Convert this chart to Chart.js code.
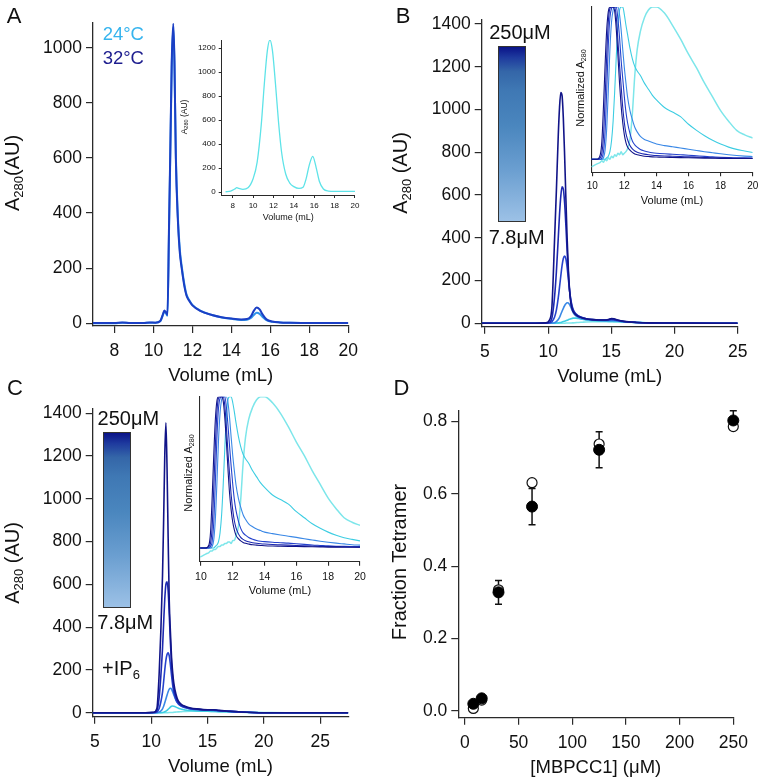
<!DOCTYPE html>
<html><head><meta charset="utf-8">
<script src="https://cdn.jsdelivr.net/npm/chart.js@4.4.1/dist/chart.umd.min.js"></script>
<style>
html,body{margin:0;padding:0;background:#fff;}
#wrap{position:relative;width:779px;height:779px;overflow:hidden;font-family:"Liberation Sans",Arial,sans-serif;color:#111;background:#fff;}
canvas{position:absolute;left:0;top:0;}
.t{position:absolute;white-space:nowrap;line-height:1;transform:translate(-50%,-50%);}
.r{transform:translate(-50%,-50%) rotate(-90deg);}
sub{font-size:0.65em;vertical-align:-0.3em;line-height:0;}
.cb{position:absolute;border:1.5px solid #333;box-sizing:border-box;
 background:linear-gradient(to bottom,#0A1388 0%,#1E3A9E 6%,#3466A8 14%,#3F78B4 25%,#4A86BE 45%,#6A9ED0 70%,#9CC1E6 100%);}
</style>
</head><body>
<div id="wrap">
<canvas id="cA" width="779" height="779"></canvas>
<canvas id="cAi" width="779" height="779"></canvas>
<canvas id="cB" width="779" height="779"></canvas>
<canvas id="cBi" width="779" height="779"></canvas>
<canvas id="cC" width="779" height="779"></canvas>
<canvas id="cCi" width="779" height="779"></canvas>
<canvas id="cD" width="779" height="779"></canvas>

<div class="t" style="left:14px;top:15.5px;font-size:22px">A</div>
<div class="t" style="left:403px;top:15.5px;font-size:22px">B</div>
<div class="t" style="left:15px;top:387.5px;font-size:22px">C</div>
<div class="t" style="left:401.5px;top:387.5px;font-size:22px">D</div>

<div class="t" style="left:123.3px;top:33.7px;font-size:18.5px;color:#36B4EE">24°C</div>
<div class="t" style="left:123.3px;top:57.5px;font-size:18.5px;color:#1C1C8E">32°C</div>

<div class="t r" style="left:11.5px;top:173px;font-size:20px">A<sub>280</sub>(AU)</div>
<div class="t r" style="left:400px;top:173px;font-size:20px">A<sub>280</sub> (AU)</div>
<div class="t r" style="left:11.5px;top:563px;font-size:20px">A<sub>280</sub> (AU)</div>
<div class="t r" style="left:398.5px;top:561.7px;font-size:20px">Fraction Tetramer</div>

<div class="t r" style="left:184px;top:117px;font-size:8.5px">A<sub>280</sub> (AU)</div>
<div class="t r" style="left:580px;top:87.5px;font-size:11px">Normalized A<sub>280</sub></div>
<div class="t r" style="left:188px;top:472.5px;font-size:11px">Normalized A<sub>280</sub></div>

<div class="cb" style="left:497.7px;top:46px;width:28.3px;height:175.7px"></div>
<div class="t" style="left:520px;top:32.3px;font-size:20px">250μM</div>
<div class="t" style="left:516.7px;top:236.7px;font-size:20px">7.8μM</div>

<div class="cb" style="left:103.3px;top:431.7px;width:27.7px;height:176px"></div>
<div class="t" style="left:128.3px;top:417.7px;font-size:20px">250μM</div>
<div class="t" style="left:125.3px;top:621.7px;font-size:20px">7.8μM</div>
<div class="t" style="left:121px;top:668px;font-size:20px">+IP<sub>6</sub></div>
</div>

<script>
// ---------------- Panel A ----------------
const volA = [6.9, 7.5, 8.0, 8.4, 8.8, 9.5, 9.8, 10.1, 10.35, 10.5, 10.56, 10.64, 10.72, 10.8, 10.86, 10.94, 11.02, 11.08, 11.15, 11.25, 11.35, 11.45, 11.6, 11.7, 11.85, 12.0, 12.4, 13.0, 13.5, 14.0, 14.5, 14.8, 15.0, 15.15, 15.3, 15.45, 15.6, 15.8, 16.1, 16.5, 17.0, 18.0, 20.0];
const a32C = [1,1,1,3,1,1,3,2,8,35,46,40,30,350,600,950,1088,950,600,380,260,200,130,100,80,65,45,30,22,17,14,15,25,45,57,50,32,14,6,3,2,1,1];
const a24C = [0,0,0,2,1,1,2,2,7,32,43,37,27,330,580,930,1075,940,615,395,272,208,136,104,83,67,46,30,21,16,12,13,19,30,38,34,23,11,5,3,2,1,1];
const xTicksA = [8,10,12,14,16,18,20];
const yTicksA = [0,200,400,600,800,1000];

const volAin = [7.3, 7.8, 8.2, 8.4, 8.6, 9.0, 9.5, 10.0, 10.4, 10.8, 11.1, 11.4, 11.65, 11.9, 12.2, 12.5, 12.8, 13.2, 13.6, 14.0, 14.5, 14.9, 15.2, 15.5, 15.85, 16.2, 16.5, 16.9, 17.4, 18, 19, 20];
const aInset = [2,8,25,36,30,22,35,110,250,560,900,1180,1268,1180,900,580,330,150,75,45,30,40,110,220,298,200,90,25,8,5,5,5];
const xTicksAin = [8,10,12,14,16,18,20];
const yTicksAin = [0,200,400,600,800,1000,1200];

// ---------------- Panel B ----------------
const volB = [4.75, 9.0, 9.8, 10.1, 10.3, 10.5, 10.65, 10.8, 10.9, 11.0, 11.1, 11.2, 11.3, 11.4, 11.5, 11.6, 11.7, 11.8, 11.9, 12.0, 12.2, 12.4, 12.7, 13.0, 13.5, 14.0, 14.5, 14.8, 15.0, 15.2, 15.5, 16.0, 17.0, 18.0, 20.0, 25.0];
const b250 = [0,0,2,15,80,380,620,880,1010,1080,1065,960,790,590,400,250,150,92,66,52,39,31,25,21,17,15,15,18,22,21,15,9,4,2,1,0];
const b125 = [0,0,1,5,25,120,240,400,510,595,638,628,565,460,340,230,150,103,74,57,41,33,26,21,17,15,15,17,20,19,14,8,4,2,1,0];
const b62 = [0,0,0,2,7,28,62,120,170,222,270,303,315,302,262,205,150,108,80,62,44,34,27,21,17,15,14,15,17,16,13,8,4,2,1,0];
const b31 = [0,0,0,0,1,3,8,18,28,42,56,70,82,91,96,95,87,74,60,48,34,27,21,18,15,13,12,12,12,12,10,7,4,2,1,0];
const b16 = [0,0,0,0,0,0,1,2,3,4,6,8,10,12,14,17,19,21,23,24,24,22,19,16,13,11,10,9,9,9,8,6,4,2,1,0];
const b8 = [0,0,0,0,0,0,0,0,0,0,0,0,0,1,1,1,1,1,2,2,3,4,5,6,7,7.5,7.5,7.3,7,6.8,6.2,5,3.5,2.2,1,0];
const xTicksB = [5,10,15,20,25];
const yTicksB = [0,200,400,600,800,1000,1200,1400];

const volBin = [9.95, 10.3, 10.5, 10.6, 10.7, 10.8, 10.9, 11.0, 11.1, 11.2, 11.3, 11.4, 11.5, 11.6, 11.7, 11.8, 11.9, 12.0, 12.1, 12.2, 12.35, 12.5, 12.65, 12.8, 13.0, 13.25, 13.5, 13.75, 14.0, 14.5, 15.0, 15.5, 16.0, 16.5, 17.0, 17.5, 18.0, 18.5, 19.0, 19.5, 20.0];
const n250 = [0,0,0.03,0.12,0.35,0.62,0.85,0.97,1,1,1,0.97,0.85,0.68,0.5,0.35,0.24,0.16,0.11,0.08,0.06,0.045,0.035,0.03,0.025,0.02,0.018,0.016,0.015,0.013,0.012,0.011,0.01,0.009,0.008,0.007,0.006,0.006,0.005,0.005,0.005];
const n125 = [0,0,0.01,0.04,0.15,0.4,0.68,0.9,0.99,1,1,1,0.93,0.78,0.62,0.48,0.34,0.24,0.17,0.13,0.09,0.068,0.055,0.047,0.04,0.034,0.03,0.027,0.025,0.022,0.02,0.018,0.016,0.014,0.012,0.01,0.009,0.008,0.007,0.006,0.006];
const n62 = [0,0,0,0.01,0.05,0.18,0.45,0.75,0.93,0.99,1,1,1,0.92,0.8,0.65,0.53,0.41,0.31,0.24,0.17,0.12,0.095,0.08,0.065,0.055,0.048,0.043,0.04,0.036,0.033,0.03,0.027,0.023,0.019,0.016,0.013,0.011,0.01,0.009,0.008];
const n31 = [0,0,0,0,0.01,0.06,0.2,0.45,0.72,0.9,0.98,1,1,1,0.95,0.85,0.72,0.6,0.5,0.41,0.32,0.26,0.21,0.18,0.15,0.13,0.12,0.11,0.1,0.09,0.082,0.074,0.066,0.058,0.05,0.043,0.036,0.03,0.025,0.021,0.018];
const n16 = [0,0,0,0,0,0,0.01,0.02,0.05,0.12,0.25,0.45,0.68,0.88,0.98,1,1,0.95,0.88,0.82,0.73,0.66,0.61,0.58,0.55,0.5,0.46,0.42,0.39,0.34,0.31,0.28,0.23,0.19,0.155,0.125,0.1,0.08,0.065,0.055,0.045];
const n8 = [-0.05,-0.03,-0.02,-0.01,-0.02,0,-0.01,0.01,0,0.02,0.01,0.03,0.02,0.04,0.03,0.05,0.03,0.04,0.05,0.07,0.13,0.3,0.55,0.72,0.84,0.93,0.98,1,1,0.96,0.88,0.79,0.69,0.6,0.5,0.41,0.32,0.25,0.19,0.16,0.14];
const xTicksIn = [10,12,14,16,18,20];

// ---------------- Panel C ----------------
const volC = [4.8, 9.5, 10.2, 10.5, 10.7, 10.85, 11.0, 11.1, 11.2, 11.3, 11.4, 11.5, 11.6, 11.7, 11.8, 11.9, 12.0, 12.2, 12.4, 12.7, 13.0, 13.5, 14.0, 15.0, 15.5, 16.0, 17.0, 18.0, 19.0, 20.0, 22.0, 25.0, 27.5];
const c250 = [0,0,2,20,180,380,640,900,1200,1355,1150,820,520,380,260,190,140,85,55,38,30,22,18,14,14,11,7,3,1,0,0,0,0];
const c125 = [0,0,1,10,70,170,300,420,530,600,612,570,460,330,230,160,115,72,48,34,27,20,17,13,13,10,6,3,1,0,0,0,0];
const c62 = [0,0,0,3,20,50,95,145,200,245,272,280,265,225,175,130,95,60,42,30,24,18,15,12,12,9,6,3,1,0,0,0,0];
const c31 = [0,0,0,0,3,8,18,30,46,64,82,98,110,114,110,98,84,58,42,30,24,18,15,12,11,9,6,3,1,0,0,0,0];
const c16 = [0,0,0,0,0,0,1,2,4,7,11,16,21,26,30,31,30,26,21,16,13,10,8,7,6,5,4,2,1,0,0,0,0];
const c8 = [0,0,0,0,0,0,0,0,0,0,0,0,1,1,1,1,2,3,4,5,6,7,7,6.5,6,5,3.5,2.5,1.5,1,0,0,0];
const xTicksC = [5,10,15,20,25];
const yTicksC = [0,200,400,600,800,1000,1200,1400];

const volCin = [9.95, 10.3, 10.5, 10.6, 10.7, 10.8, 10.9, 11.0, 11.1, 11.2, 11.3, 11.4, 11.5, 11.6, 11.7, 11.8, 11.9, 12.0, 12.1, 12.2, 12.35, 12.5, 12.65, 12.8, 13.0, 13.25, 13.5, 13.75, 14.0, 14.5, 15.0, 15.5, 16.0, 16.5, 17.0, 17.5, 18.0, 18.5, 19.0, 19.5, 20.0];
const m250 = [0,0,0.02,0.1,0.32,0.6,0.84,0.97,1,1,1,0.97,0.86,0.7,0.52,0.36,0.25,0.17,0.12,0.085,0.062,0.047,0.037,0.031,0.026,0.021,0.019,0.017,0.015,0.013,0.012,0.011,0.01,0.009,0.008,0.007,0.006,0.006,0.005,0.005,0.005];
const m125 = [0,0,0.01,0.03,0.13,0.38,0.66,0.89,0.99,1,1,1,0.94,0.8,0.63,0.49,0.35,0.25,0.18,0.135,0.095,0.07,0.057,0.048,0.041,0.035,0.031,0.028,0.026,0.023,0.021,0.019,0.017,0.015,0.013,0.011,0.01,0.009,0.008,0.007,0.006];
const m62 = [0,0,0,0.01,0.04,0.16,0.42,0.72,0.92,0.99,1,1,1,0.93,0.81,0.67,0.54,0.42,0.32,0.25,0.18,0.13,0.1,0.085,0.07,0.058,0.05,0.045,0.042,0.038,0.035,0.032,0.028,0.024,0.02,0.017,0.014,0.012,0.011,0.01,0.009];
const m31 = [0,0,0,0,0.01,0.05,0.18,0.42,0.7,0.89,0.98,1,1,1,0.96,0.86,0.73,0.61,0.51,0.42,0.33,0.27,0.22,0.19,0.16,0.14,0.125,0.115,0.105,0.095,0.086,0.078,0.07,0.061,0.053,0.045,0.038,0.032,0.027,0.022,0.019];
const m16 = [0,0,0,0,0,0,0.01,0.02,0.04,0.1,0.22,0.42,0.66,0.87,0.98,1,1,0.96,0.9,0.83,0.74,0.67,0.62,0.59,0.56,0.51,0.47,0.43,0.4,0.35,0.32,0.29,0.24,0.2,0.16,0.13,0.105,0.085,0.068,0.057,0.047];
const m8 = [-0.06,-0.04,-0.03,-0.02,-0.02,-0.01,-0.01,0,0.01,0.01,0.02,0.02,0.03,0.03,0.04,0.04,0.03,0.05,0.05,0.08,0.14,0.32,0.56,0.73,0.85,0.93,0.98,1,1,0.96,0.89,0.8,0.7,0.61,0.51,0.42,0.33,0.26,0.2,0.17,0.15];

// ---------------- Panel D ----------------
const concD = [7.8, 15.6, 31.25, 62.5, 125, 250];
const fracFilled = [0.02, 0.035, 0.328, 0.565, 0.722, 0.803];
const errFilled = [0.005, 0.005, 0.033, 0.05, 0.05, 0.027];
const fracOpen = [0.007, 0.03, 0.335, 0.631, 0.738, 0.786];
const xTicksD = [0,50,100,150,200,250];
const yTicksD = [0,0.2,0.4,0.6,0.8];

// ---------------- styling / helpers ----------------
const FF = '"Liberation Sans", Arial, sans-serif';
Chart.defaults.font.family = FF;
Chart.defaults.color = '#111';
const AX = '#2a2a2a';
const concColors = ['#111488', '#1C28B0', '#2542CC', '#3A88E6', '#3DCDE2', '#7DE6EA'];

function pts(xs, ys) { return xs.map((x, i) => ({x: x, y: ys[i]})); }
function line(xs, ys, color, w) {
  return {data: pts(xs, ys), borderColor: color, backgroundColor: color, borderWidth: w,
    pointRadius: 0, fill: false, cubicInterpolationMode: 'monotone'};
}
function axis(min, max, ticks, o) {
  const hasTicks = o.tl > 0;
  return {
    type: 'linear', min: min, max: max,
    afterBuildTicks: s => { s.ticks = ticks.map(v => ({value: v})); },
    grid: {display: hasTicks, drawOnChartArea: false, drawTicks: hasTicks, tickLength: o.tl || 0, color: AX, lineWidth: o.lw || 1.2},
    border: {display: true, color: AX, width: o.lw || 1.3},
    ticks: {display: !!o.fs, font: {size: o.fs || 10}, color: '#111', padding: o.pad || 0,
      maxRotation: 0, minRotation: 0, autoSkip: false, callback: o.fmt || (v => String(v))},
    title: o.title ? {display: true, text: o.title, font: {size: o.tfs}, color: '#111', padding: 0} : {display: false}
  };
}
function build(id, box, xCfg, yCfg, datasets, type, plugins) {
  xCfg.afterFit = s => { s.height = box.xH; };
  yCfg.afterFit = s => { s.width = box.yW; };
  return new Chart(document.getElementById(id), {
    type: type || 'line',
    data: {datasets: datasets},
    options: {
      responsive: false, animation: false, events: [],
      layout: {padding: {left: box.L - box.yW, top: box.T, right: 779 - box.R, bottom: 779 - box.B - box.xH}},
      plugins: {legend: {display: false}, tooltip: {enabled: false}},
      scales: {x: xCfg, y: yCfg}
    },
    plugins: plugins || []
  });
}

// A main
build('cA', {L: 93, T: 23, R: 348.3, B: 326, yW: 60, xH: 61.1},
  axis(6.9, 20, xTicksA, {tl: 7, fs: 17.5, pad: 8, title: 'Volume (mL)', tfs: 18.5}),
  axis(-10, 1090, yTicksA, {tl: 7, fs: 17.5, pad: 4}),
  [line(volA, a32C, '#1B3FC4', 2), line(volA, a24C, '#2F95EA', 2)]);

// A inset
build('cAi', {L: 221.7, T: 40, R: 355, B: 195, yW: 30, xH: 28.4},
  axis(6.92, 20, xTicksAin, {tl: 3, fs: 8, pad: 3, title: 'Volume (mL)', tfs: 9, lw: 1}),
  axis(-25, 1269, yTicksAin, {tl: 3, fs: 8, pad: 3, lw: 1}),
  [line(volAin, aInset, '#5EE3E8', 1.3)]);

// B main
build('cB', {L: 481.7, T: 20, R: 737.7, B: 326.7, yW: 60, xH: 61.1},
  axis(4.74, 25, xTicksB, {tl: 7, fs: 17.5, pad: 8, title: 'Volume (mL)', tfs: 18.5}),
  axis(-16, 1419, yTicksB, {tl: 7, fs: 17.5, pad: 4}),
  [b250, b125, b62, b31, b16, b8].map((d, i) => line(volB, d, concColors[i], 1.6)));

// B inset
build('cBi', {L: 591.3, T: 7, R: 752.7, B: 172.3, yW: 10, xH: 35.3},
  axis(9.94, 20, xTicksIn, {tl: 4, fs: 10, pad: 4.4, title: 'Volume (mL)', tfs: 11, lw: 1.1}),
  axis(-0.0854, 1.0, [0], {tl: 0, fs: 0, lw: 1.1}),
  [n250, n125, n62, n31, n16, n8].map((d, i) => line(volBin, d, concColors[i], i === 5 ? 1.5 : 1.1)));

// C main
build('cC', {L: 92.7, T: 408.3, R: 348.3, B: 716.7, yW: 60, xH: 61.1},
  axis(4.8, 27.5, xTicksC, {tl: 7, fs: 17.5, pad: 8, title: 'Volume (mL)', tfs: 18.5}),
  axis(-18.7, 1423, yTicksC, {tl: 7, fs: 17.5, pad: 4}),
  [c250, c125, c62, c31, c16, c8].map((d, i) => line(volC, d, concColors[i], 1.6)));

// C inset
build('cCi', {L: 200, T: 396.7, R: 360, B: 561.7, yW: 10, xH: 35.6},
  axis(9.94, 20, xTicksIn, {tl: 4, fs: 10.5, pad: 4.7, title: 'Volume (mL)', tfs: 11, lw: 1.1}),
  axis(-0.0905, 1.0, [0], {tl: 0, fs: 0, lw: 1.1}),
  [m250, m125, m62, m31, m16, m8].map((d, i) => line(volCin, d, concColors[i], i === 5 ? 1.5 : 1.1)));

// D
const errBars = {
  id: 'errBars',
  beforeDatasetsDraw(chart) {
    const {ctx, scales: {x, y}} = chart;
    ctx.save();
    ctx.strokeStyle = '#111';
    ctx.lineWidth = 1.5;
    concD.forEach((c, i) => {
      const px = x.getPixelForValue(c);
      const y1 = y.getPixelForValue(fracFilled[i] - errFilled[i]);
      const y2 = y.getPixelForValue(fracFilled[i] + errFilled[i]);
      ctx.beginPath();
      ctx.moveTo(px, y1); ctx.lineTo(px, y2);
      ctx.moveTo(px - 3.5, y1); ctx.lineTo(px + 3.5, y1);
      ctx.moveTo(px - 3.5, y2); ctx.lineTo(px + 3.5, y2);
      ctx.stroke();
    });
    ctx.restore();
  }
};
build('cD', {L: 458.3, T: 410.7, R: 733.3, B: 717.7, yW: 60, xH: 61.1},
  axis(-6.2, 250, xTicksD, {tl: 7, fs: 17.5, pad: 8, title: '[MBPCC1] (μM)', tfs: 18.5}),
  axis(-0.0185, 0.83, yTicksD, {tl: 7, fs: 17.5, pad: 4, fmt: v => v.toFixed(1)}),
  [
    {data: pts(concD, fracFilled), pointRadius: 5.5, pointBackgroundColor: '#000', pointBorderColor: '#000', pointBorderWidth: 1, showLine: false, clip: false},
    {data: pts(concD, fracOpen), pointRadius: 5, pointBackgroundColor: '#fff', pointBorderColor: '#111', pointBorderWidth: 1.2, showLine: false, clip: false}
  ], 'scatter', [errBars]);
</script>
</body></html>
